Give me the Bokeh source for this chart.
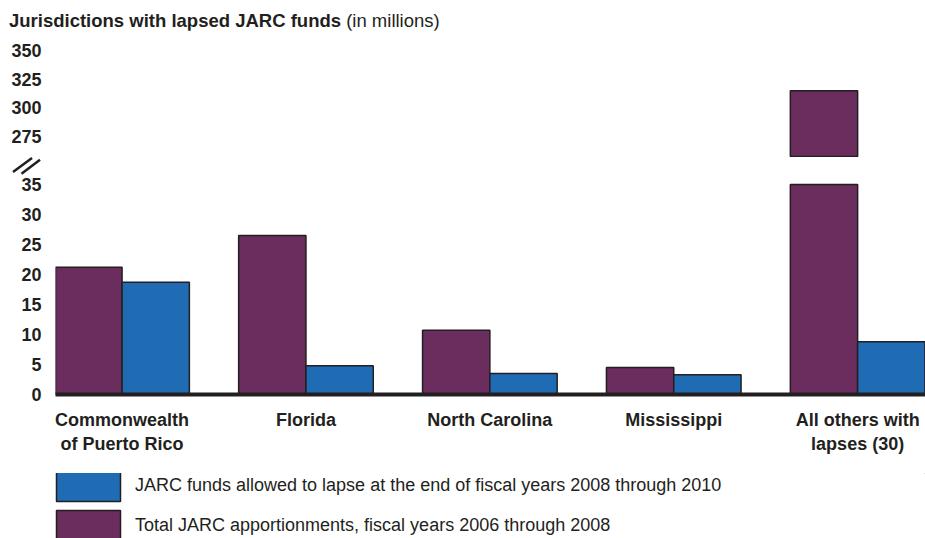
from bokeh.plotting import figure
from bokeh.models import (Range1d, FixedTicker, Legend, LegendItem,
                          Div, ColumnDataSource)
from bokeh.transform import dodge
from bokeh.layouts import column
from bokeh.embed import file_html
from bokeh.resources import INLINE

# ---------------- data ----------------
categories = ["Commonwealth\nof Puerto Rico", "Florida", "North Carolina",
              "Mississippi", "All others with\nlapses (30)"]
total_apportionments = [21.2, 26.5, 10.7, 4.5, 315.0]   # purple
funds_lapsed = [18.7, 4.8, 3.5, 3.3, 8.8]               # blue
lower_ticks = [0, 5, 10, 15, 20, 25, 30, 35]
upper_ticks = [275, 300, 325, 350]
legend_labels = ["JARC funds allowed to lapse at the end of fiscal years 2008 through 2010",
                 "Total JARC apportionments, fiscal years 2006 through 2008"]
title_bold = "Jurisdictions with lapsed JARC funds"
title_rest = "(in millions)"

# axis break
LOWER_MAX = 35
UPPER_MIN = 257.5

PURPLE = "#6b2d5e"
BLUE = "#1f6cb5"
INK = "#231f20"
FONT = "Liberation Sans"

xs = list(range(len(categories)))
src = ColumnDataSource(dict(
    x=xs,
    total_low=[min(v, LOWER_MAX) for v in total_apportionments],
    lapsed=funds_lapsed,
))
big = [i for i, v in enumerate(total_apportionments) if v > LOWER_MAX]
src_up = ColumnDataSource(dict(
    x=[xs[i] for i in big],
    top=[total_apportionments[i] for i in big],
    bottom=[UPPER_MIN for _ in big],
))

x_range = Range1d(-0.362, 4.369)
BAR_W = 0.366
OFF = 0.183


def style_yaxis(p, ticks):
    p.yaxis.ticker = FixedTicker(ticks=ticks)
    p.yaxis.axis_line_color = None
    p.yaxis.major_tick_line_color = None
    p.yaxis.minor_tick_line_color = None
    p.yaxis.major_tick_out = 0
    p.yaxis.major_tick_in = 0
    p.yaxis.major_label_standoff = 14
    p.yaxis.major_label_text_font = FONT
    p.yaxis.major_label_text_font_size = "18px"
    p.yaxis.major_label_text_font_style = "bold"
    p.yaxis.major_label_text_color = INK


def bare(p):
    p.grid.visible = False
    return p


# ---------------- title ----------------
title = Div(
    text=(f'<div style="font-family:\'{FONT}\';font-size:18.5px;color:{INK};'
          f'padding-left:9px;padding-top:8px;white-space:nowrap">'
          f'<b>{title_bold}</b> {title_rest}</div>'),
    width=925, height=30, margin=0)

# ---------------- upper panel ----------------
up = bare(figure(frame_width=870, frame_height=117, x_range=x_range,
                 y_range=Range1d(256.69, 358.72), x_axis_location=None,
                 min_border_left=55, min_border_right=0, min_border_top=10,
                 min_border_bottom=0, output_backend="svg",
                 toolbar_location=None, outline_line_color=None))
up.vbar(x=dodge("x", -OFF, range=x_range), top="top", bottom="bottom",
        width=BAR_W, source=src_up, fill_color=PURPLE, line_color=INK,
        line_width=1.5)
style_yaxis(up, upper_ticks)

# ---------------- axis-break marks (decoration) ----------------
brk = Div(
    text=('<svg width="925" height="18" style="display:block">'
          f'<line x1="13" y1="15" x2="32" y2="1" stroke="{INK}" stroke-width="2.5"/>'
          f'<line x1="21.5" y1="16.8" x2="40" y2="2.8" stroke="{INK}" stroke-width="2.5"/>'
          '</svg>'),
    width=925, height=18, margin=0)

# ---------------- lower panel ----------------
lo = bare(figure(frame_width=870, frame_height=212, x_range=x_range,
                 y_range=Range1d(0, 35.33),
                 min_border_left=55, min_border_right=0, min_border_top=7,
                 min_border_bottom=62, output_backend="svg",
                 toolbar_location=None, outline_line_color=None))
lo.vbar(x=dodge("x", -OFF, range=x_range), top="total_low",
        width=BAR_W, source=src, fill_color=PURPLE, line_color=INK,
        line_width=1.5)
lo.vbar(x=dodge("x", OFF, range=x_range), top="lapsed",
        width=BAR_W, source=src, fill_color=BLUE, line_color=INK,
        line_width=1.5)
style_yaxis(lo, lower_ticks)

lo.xaxis.ticker = FixedTicker(ticks=xs)
lo.xaxis.major_label_overrides = {i: c for i, c in zip(xs, categories)}
lo.xaxis.axis_line_width = 4
lo.xaxis.axis_line_color = INK
lo.xaxis.major_tick_line_color = None
lo.xaxis.minor_tick_line_color = None
lo.xaxis.major_tick_out = 0
lo.xaxis.major_tick_in = 0
lo.xaxis.major_label_standoff = 15
lo.xaxis.major_label_text_font = FONT
lo.xaxis.major_label_text_font_size = "18px"
lo.xaxis.major_label_text_font_style = "bold"
lo.xaxis.major_label_text_color = INK

# ---------------- legend panel ----------------
lg = bare(figure(frame_width=870, frame_height=65, x_range=Range1d(0, 1),
                 y_range=Range1d(0, 1), x_axis_location=None,
                 y_axis_location=None, min_border_left=55, min_border_right=0,
                 min_border_top=17, min_border_bottom=0, output_backend="svg",
                 toolbar_location=None, outline_line_color=None))
# legend-only renderers: their single bar lies outside the visible range
offscreen = ColumnDataSource(dict(x=[5], top=[5], bottom=[4]))
r_lapse = lg.vbar(x="x", top="top", bottom="bottom", width=0.1,
                  source=offscreen, fill_color=BLUE, line_color=INK,
                  line_width=1.5)
r_total = lg.vbar(x="x", top="top", bottom="bottom", width=0.1,
                  source=offscreen, fill_color=PURPLE, line_color=INK,
                  line_width=1.5)
legend = Legend(items=[LegendItem(label=legend_labels[0], renderers=[r_lapse]),
                       LegendItem(label=legend_labels[1], renderers=[r_total])],
                orientation="vertical", location="top_left",
                glyph_width=80, glyph_height=39, label_standoff=7,
                spacing=1, margin=-7, padding=0,
                border_line_color=None, background_fill_alpha=0,
                label_text_font=FONT, label_text_font_size="18px",
                label_text_color=INK)
lg.add_layout(legend)

layout = column(title, up, brk, lo, lg, spacing=0)
open("out.html", "w").write(file_html(layout, INLINE))
